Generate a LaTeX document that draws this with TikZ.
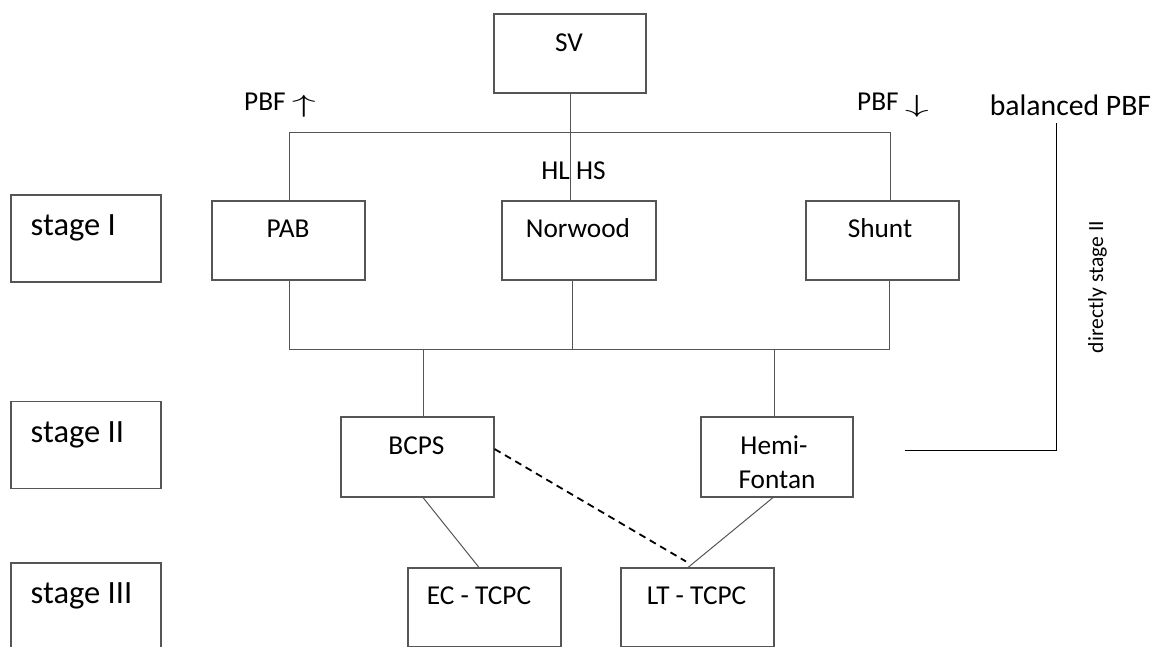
\documentclass[tikz,border=0pt]{standalone}
\usepackage{fontspec}
\setmainfont{Carlito}
\definecolor{boxc}{HTML}{555555}
\definecolor{linec}{HTML}{555555}
\newcommand{\myup}{\raisebox{-2pt}{\resizebox*{24pt}{22pt}{$\uparrow$}}}
\newcommand{\mydown}{\raisebox{-2pt}{\resizebox*{24pt}{22pt}{$\downarrow$}}}
\begin{document}
\begin{tikzpicture}[x=1pt,y=-1pt,
  box/.style={draw=boxc, line width=1.1pt, inner sep=0pt, minimum width=153pt, minimum height=79pt},
  stagebox/.style={draw=boxc, line width=1.1pt, inner sep=0pt, minimum width=150pt, minimum height=87pt},
  txt/.style={inner sep=0pt, anchor=base, font=\fontsize{27.3}{34}\selectfont},
  stagetxt/.style={inner sep=0pt, anchor=base west, font=\fontsize{32.5}{38}\selectfont},
  ln/.style={draw=linec, line width=1pt},
  dashln/.style={draw=black, line width=1.8pt, dash pattern=on 7pt off 5pt}]
\useasboundingbox (0,0) rectangle (1158,646);
\clip (0,0) rectangle (1158,646);
\fill[white] (0,0) rectangle (1158,646);

% stage boxes
\node[stagebox] (s1) at (86,238.5) {};
\node[stagebox] (s2) at (86,445) {};
\node[stagebox] (s3) at (86,606.5) {};
\node[stagetxt] (s1t) at (30.5,235) {stage I};
\node[stagetxt] (s2t) at (30.5,442) {stage II};
\node[stagetxt] (s3t) at (30.5,603) {stage III};

% boxes
\node[box, minimum width=152pt] (SV) at (570,53.5) {};
\node[box] (PAB) at (288.5,240.5) {};
\node[box, minimum width=154pt] (Norwood) at (579,240.5) {};
\node[box] (Shunt) at (882.5,240.5) {};
\node[box, minimum height=80pt] (BCPS) at (417.5,457) {};
\node[box, minimum width=152pt, minimum height=80pt] (Hemi) at (777,457) {};
\node[box] (EC) at (484.5,607.5) {};
\node[box] (LT) at (697.5,607.5) {};

% box texts
\node[txt] (SVt) at (569,51) {SV};
\node[txt] (PABt) at (288,237) {PAB};
\node[txt] (Norwoodt) at (578,237) {Norwood};
\node[txt] (Shuntt) at (880,237) {Shunt};
\node[txt] (BCPSt) at (416.5,454) {BCPS};
\node[txt] (Hemit1) at (774,454) {Hemi-};
\node[txt] (Hemit2) at (777,488) {Fontan};
\node[txt] (ECt) at (479,604) {EC - TCPC};
\node[txt] (LTt) at (696.5,604) {LT - TCPC};

% labels
\node[txt, anchor=base west] (pbfup) at (244,110) {PBF \myup};
\node[txt, anchor=base west] (pbfdown) at (857,110) {PBF \mydown};
\node[txt] (hlhs) at (573.5,179) {HL HS};
\node[txt, font=\fontsize{29.7}{36}\selectfont] (bal) at (1070.5,115) {balanced PBF};
\node[inner sep=0pt, anchor=base, rotate=90, font=\fontsize{21.6}{26}\selectfont] (direct) at (1103,287) {directly stage II};

% connectors
\coordinate (tL) at (289,132);
\coordinate (tR) at (890,132);
\coordinate (bL) at (289,349);
\coordinate (bR) at (889,349);
\coordinate (mid) at (572,349);
\coordinate (bc) at (423,349);
\coordinate (hf) at (774,349);
\coordinate (brT) at (1056,123);

\draw[ln] (SV.south) -- (SV.south |- Norwood.north);
\draw[ln] (tL |- PAB.north) -- (tL) -- (tR) -- (tR |- Shunt.north);
\draw[ln] (bL |- PAB.south) -- (bL) -- (bR) -- (bR |- Shunt.south);
\draw[ln] (mid |- Norwood.south) -- (mid);
\draw[ln] (bc) -- (bc |- BCPS.north);
\draw[ln] (hf) -- (hf |- Hemi.north);
\draw[ln] ([xshift=5.5pt]BCPS.south) -- ([xshift=-5.5pt]EC.north);
\draw[ln] ([xshift=-4pt]Hemi.south) -- ([xshift=-9.5pt]LT.north);
\draw[dashln] ([yshift=8pt]BCPS.east) -- ([xshift=-11.5pt,yshift=6pt]LT.north);
\draw[draw=black, line width=1pt] ([xshift=51pt,yshift=7pt]Hemi.east) -| (brT);
\end{tikzpicture}
\end{document}
